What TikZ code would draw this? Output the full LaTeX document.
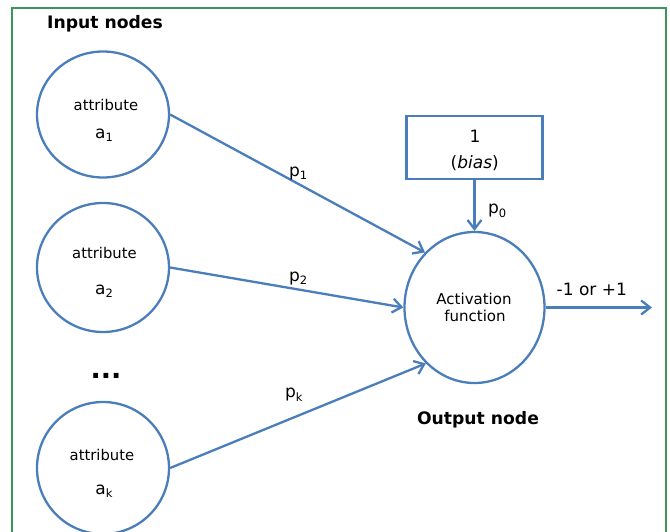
\documentclass[tikz,border=0pt]{standalone}
\usepackage{fontspec}
\setmainfont{DejaVu Sans}
\usetikzlibrary{shapes.geometric,arrows.meta}
\definecolor{edgeblue}{RGB}{74,126,187}
\definecolor{framegreen}{RGB}{60,150,90}
% lowered small index used after a letter (a_1, p_k, ...)
\newcommand\lowsub[1]{\raisebox{-3.5pt}{\fontsize{11.5}{11.5}\selectfont #1}}

\begin{document}
\begin{tikzpicture}[x=1pt,y=-1pt,
  unit/.style={ellipse, draw=edgeblue, line width=2.3pt, inner sep=0pt},
  biasbox/.style={rectangle, draw=edgeblue, line width=2.3pt, inner sep=0pt,
    minimum width=136pt, minimum height=63pt},
  link/.style={draw=edgeblue, line width=2.3pt,
    -{Straight Barb[length=9pt,width=14pt]}},
  lbl/.style={anchor=base, inner sep=0pt, font=\fontsize{17}{20}\selectfont},
  small/.style={anchor=base, inner sep=0pt, font=\fontsize{14.8}{18}\selectfont},
  head/.style={anchor=base, inner sep=0pt, font=\fontsize{17.2}{20}\selectfont\bfseries}]

\useasboundingbox (0,0) rectangle (670,532);
\clip (0,0) rectangle (670,532);

% frame, open at the bottom
\draw[framegreen, line width=1.8pt] (12,540) -- (12,8) -- (666,8) -- (666,540);

% input units
\node[unit, minimum width=132pt, minimum height=126pt] (in1) at (103,114.5) {};
\node[unit, minimum width=132pt, minimum height=129pt] (in2) at (103,267.5) {};
\node[unit, minimum width=132pt, minimum height=132pt] (ink) at (103,468) {};

% output unit and bias
\node[unit, minimum width=140pt, minimum height=151pt] (act) at (474.5,307.5) {};
\node[biasbox] (bias) at (474.5,147.5) {};

% texts inside the units
\node[small] (t1) at (106,110.3) {attribute};
\node[lbl]   (v1) at (104,138.3) {a\lowsub{1}};
\node[small] (t2) at (104.5,258.3) {attribute};
\node[lbl]   (v2) at (104,294.3) {a\lowsub{2}};
\node[small] (tk) at (102,460) {attribute};
\node[lbl]   (vk) at (104,494.3) {a\lowsub{k}};
\node[font=\fontsize{27}{27}\selectfont\bfseries, anchor=base, inner sep=0pt]
  (dots) at (106,378) {...};

\node[small, font=\fontsize{15}{18}\selectfont] (a1) at (474,304) {Activation};
\node[small, font=\fontsize{15}{18}\selectfont] (a2) at (475,321.7) {function};

\node[lbl] (b1) at (475,142.7) {1};
\node[lbl] (b2) at (474.7,168.3) {(\textit{bias})};

% headings
\node[head, anchor=base west] (hin) at (47,28.3) {Input nodes};
\node[head] (hout) at (478,424) {Output node};

% connectors
\coordinate (outend) at (652,307.5);
\draw[link] (in1.east) -- (act.132);
\draw[link] (in2.east) -- (act.west);
\draw[link] (ink.east) -- (act.229);
\draw[link] (bias.south) -- (act.north);
\draw[link] (act.east) -- (outend);

% weights and output value
\node[lbl, anchor=base west] (p1) at (289,176.5) {p\lowsub{1}};
\node[lbl, anchor=base west] (p2) at (289,281) {p\lowsub{2}};
\node[lbl, anchor=base west] (pk) at (285,397.5) {p\lowsub{k}};
\node[lbl, anchor=base west] (p0) at (488,214) {p\lowsub{0}};
\node[lbl, anchor=base west] (res) at (556.5,295.3) {-1 or +1};
\end{tikzpicture}
\end{document}
